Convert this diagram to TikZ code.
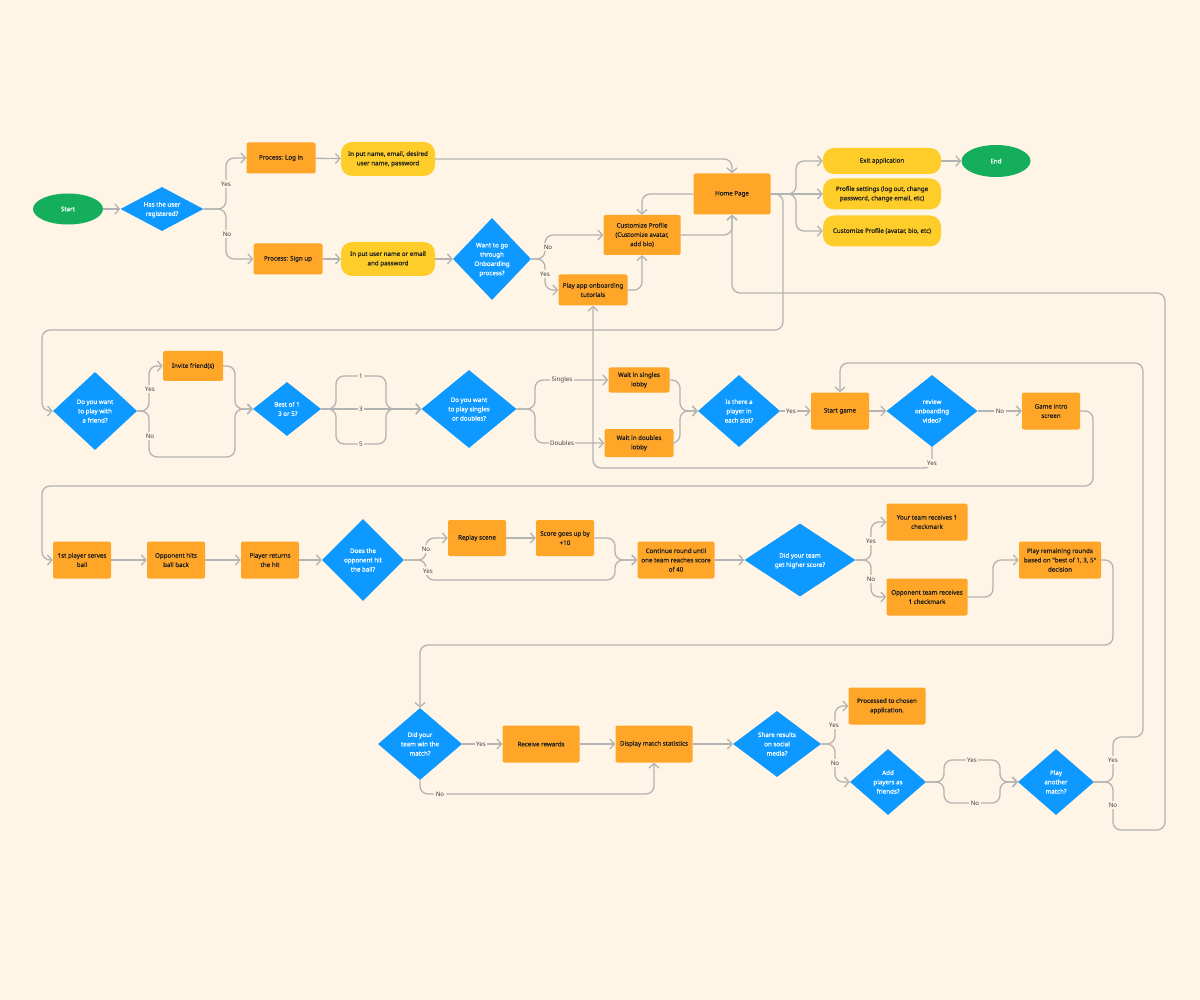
\documentclass[tikz,border=0pt]{standalone}
\usepackage{fontspec}
\setmainfont{Noto Sans}
\newfontfamily\boxfont{Noto Sans}[BoldFont={Noto Sans}, BoldFeatures={FakeBold=0.4}]
\usetikzlibrary{shapes.geometric,arrows.meta}
\definecolor{bg}{HTML}{FEF5E6}
\definecolor{orng}{HTML}{FFA629}
\definecolor{yllw}{HTML}{FFCD29}
\definecolor{blu}{HTML}{0D99FF}
\definecolor{grn}{HTML}{14AE5C}
\definecolor{lin}{HTML}{B3B3B3}
\definecolor{ink}{HTML}{1E1E1E}
\newcommand\dlab[1]{\raisebox{-1.9pt}[0pt][0pt]{\makebox[0pt]{\begin{tabular}{@{}c@{}}#1\end{tabular}}}}
\tikzset{
  base/.style={font=\boxfont\bfseries\fontsize{6.2}{9.3}\selectfont, align=center, inner sep=0pt},
  obox/.style n args={2}{base, rectangle, rounded corners=2pt, fill=orng, text=ink, minimum width=#1pt, minimum height=#2pt},
  ybox/.style n args={2}{base, rectangle, rounded corners=11pt, fill=yllw, text=ink, minimum width=#1pt, minimum height=#2pt},
  dec/.style n args={2}{base, diamond, fill=blu, text=white, minimum width=#1pt, minimum height=#2pt},
  term/.style n args={2}{base, ellipse, fill=grn, text=white, minimum width=#1pt, minimum height=#2pt},
  arr/.style={draw=lin, line width=1.3pt, rounded corners=8pt, -{Straight Barb[length=4.5pt,width=10pt]}},
  lbl/.style={font=\fontsize{6.2}{8}\selectfont, text=ink!85, fill=bg, inner sep=1.5pt},
}
\begin{document}
\begin{tikzpicture}[x=1pt,y=-1pt]
\fill[bg] (0,0) rectangle (1200,1000);
\useasboundingbox (0,0) rectangle (1200,1000);

% ---------- Row 1 ----------
\node[term={70}{31}] (start) at (68,209) {Start};
\node[dec={83}{44}] (q1) at (162,209) {\dlab{Has the user\\registered?}};
\node[obox={69}{31}] (login) at (281,158) {Process: Log in};
\node[ybox={94}{34}] (inlogin) at (388,159) {In put name, email, desired\\user name, password};
\node[obox={69}{31}] (signup) at (288,259) {Process: Sign up};
\node[ybox={94}{34}] (insignup) at (388,259) {In put user name or email\\and password};
\node[dec={78}{82}] (want) at (492,259) {\dlab{Want to go\\through\\Onboarding\\process?}};
\node[obox={77}{40}] (custom) at (642,235) {Customize Profile\\(Customize avatar,\\add bio)};
\node[obox={69}{31}] (tut) at (593,290) {Play app onboarding\\tutorials};
\node[obox={77}{41}] (home) at (732,194) {Home Page};
\node[ybox={118}{26}] (exit) at (882,161) {Exit application};
\node[term={69}{32}] (end) at (996,161) {End};
\node[ybox={118}{31}] (profset) at (882,194) {Profile settings (log out, change\\password, change email, etc)};
\node[ybox={118}{31}] (custprof) at (882,231) {Customize Profile (avatar, bio, etc)};

% ---------- Row 2 ----------
\node[dec={84}{78}] (friend) at (95,411) {\dlab{Do you want\\to play with\\a friend?}};
\node[obox={60}{30}] (invite) at (193,366) {Invite friend(s)};
\node[dec={68}{54}] (best) at (287,409) {\dlab{Best of 1\\\ 3 or 5?}};
\node[dec={95}{78}] (sd) at (469,409) {\dlab{Do you want\\to play singles\\or doubles?}};
\node[obox={61}{25}] (singles) at (639,380) {Wait in singles\\lobby};
\node[obox={69}{28}] (doubles) at (639,443) {Wait in doubles\\lobby};
\node[dec={82}{72}] (slot) at (739,411) {\dlab{Is there a\\player in\\each slot?}};
\node[obox={58}{37}] (startg) at (840,411) {Start game};
\node[dec={91}{72}] (review) at (932,411) {\dlab{review\\onboarding\\video?}};
\node[obox={58}{37}] (intro) at (1051,411) {Game intro\\screen};

% ---------- Row 3 ----------
\node[obox={58}{37}] (p1) at (82,560) {1st player serves\\ball};
\node[obox={58}{37}] (opp) at (176,560) {Opponent hits\\ball back};
\node[obox={58}{37}] (ret) at (270,560) {Player returns\\the hit};
\node[dec={82}{82}] (hit) at (363,560) {\dlab{Does the\\opponent hit\\the ball?}};
\node[obox={58}{36}] (replay) at (477,538) {Replay scene};
\node[obox={58}{36}] (score) at (565,538) {Score goes up by\\+10};
\node[obox={77}{37}] (cont) at (676,560) {Continue round until\\one team reaches score\\of 40};
\node[dec={111}{73}] (higher) at (800,560) {\dlab{Did your team\\get higher score?}};
\node[obox={81}{37}] (yours) at (927,522) {Your team receives 1\\checkmark};
\node[obox={81}{37}] (oppteam) at (927,597) {Opponent team receives\\1 checkmark};
\node[obox={82}{37}] (remain) at (1060,560) {Play remaining rounds\\based on "best of 1, 3, 5"\\decision};

% ---------- Row 4 ----------
\node[dec={84}{72}] (win) at (420,744) {\dlab{Did your\\team win the\\match?}};
\node[obox={77}{37}] (recv) at (541,744) {Receive rewards};
\node[obox={77}{37}] (disp) at (654,744) {Display match statistics};
\node[dec={88}{66}] (share) at (777,744) {\dlab{Share results\\on social\\media?}};
\node[obox={77}{37}] (proc) at (887,706) {Processed to chosen\\application.};
\node[dec={76}{66}] (add) at (888,782) {\dlab{Add\\players as\\friends?}};
\node[dec={76}{66}] (again) at (1056,782) {\dlab{Play\\another\\match?}};

% ---------- Long loops ----------
\draw[arr] (home.east) -- (783,194) -- (783,330) -- (42,330) -- (42,411) -- (friend.west);
\draw[arr] (again.east) -- (1113,782) -- (1113,737) -- (1143,737) -- (1143,363) -- (840,363) -- (startg.north);
\draw[arr] (again.east) -- (1113,782) -- (1113,830) -- (1165,830) -- (1165,293) -- (732,293) -- (home.south);
\draw[arr] (review.south) -- (932,468) -- (593,468) -- (tut.south);
\draw[arr] (intro.east) -- (1093,411) -- (1093,486) -- (42,486) -- (42,560) -- (p1.west);
\draw[arr] (remain.east) -- (1113,560) -- (1113,645) -- (420,645) -- (win.north);

% ---------- Row 1 connectors ----------
\draw[arr] (start) -- (q1);
\draw[arr] (q1.east) -- (226,209) -- (226,158) -- (login.west);
\draw[arr] (q1.east) -- (226,209) -- (226,259) -- (signup.west);
\node[lbl] (l1) at (226,184) {Yes};
\node[lbl] (l2) at (227,234) {No};
\draw[arr] (login) -- (inlogin);
\draw[arr] (signup) -- (insignup);
\draw[arr] (inlogin.east) -- (732,159) -- (home.north);
\draw[arr] (insignup) -- (want);
\draw[arr] (want.east) -- (545,259) -- (545,235) -- (custom.west);
\draw[arr] (want.east) -- (545,259) -- (545,290) -- (tut.west);
\node[lbl] (l3) at (548,247) {No};
\node[lbl] (l4) at (545,274) {Yes};
\draw[arr] (tut.east) -| (custom.south);
\draw[arr] (custom.east) -| (home.south);
\draw[arr] (home.west) -| (custom.north);
\draw[arr] (home.east) -- (796,194) -- (796,161) -- (exit.west);
\draw[arr] (home.east) -- (profset.west);
\draw[arr] (home.east) -- (796,194) -- (796,231) -- (custprof.west);
\draw[arr] (exit) -- (end);

% ---------- Row 2 connectors ----------
\draw[arr] (friend.east) -- (149,411) -- (149,366) -- (invite.west);
\draw[arr] (friend.east) -- (149,411) -- (149,457) -- (235,457) -- (235,409) -- (best.west);
\draw[arr] (invite.east) -- (235,366) -- (235,409) -- (best.west);
\node[lbl] (l5) at (150,389) {Yes};
\node[lbl] (l6) at (150,436) {No};
\draw[arr] (best.east) -- (336,409) -- (336,376) -- (386,376) -- (386,409) -- (sd.west);
\draw[arr] (best.east) -- (sd.west);
\draw[arr] (best.east) -- (336,409) -- (336,444) -- (386,444) -- (386,409) -- (sd.west);
\node[lbl] (l7) at (361,376) {1};
\node[lbl] (l8) at (361,409) {3};
\node[lbl] (l9) at (361,444) {5};
\draw[arr] (sd.east) -- (535,409) -- (535,380) -- (singles.west);
\draw[arr] (sd.east) -- (535,409) -- (535,443) -- (doubles.west);
\node[lbl] (l10) at (562,380) {Singles};
\node[lbl] (l11) at (562,443) {Doubles};
\draw[arr] (singles.east) -- (680,380) -- (680,411) -- (slot.west);
\draw[arr] (doubles.east) -- (680,443) -- (680,411) -- (slot.west);
\draw[arr] (slot) -- (startg);
\node[lbl] (l12) at (791,411) {Yes};
\draw[arr] (startg) -- (review);
\draw[arr] (review) -- (intro);
\node[lbl] (l13) at (1000,411) {No};
\node[lbl] (l14) at (932,463) {Yes};

% ---------- Row 3 connectors ----------
\draw[arr] (p1) -- (opp);
\draw[arr] (opp) -- (ret);
\draw[arr] (ret) -- (hit);
\draw[arr] (hit.east) -- (426,560) -- (426,538) -- (replay.west);
\draw[arr] (hit.east) -- (426,560) -- (426,580) -- (615,580) -- (615,560) -- (cont.west);
\node[lbl] (l15) at (426,549) {No};
\node[lbl] (l16) at (428,571) {Yes};
\draw[arr] (replay) -- (score);
\draw[arr] (score.east) -- (615,538) -- (615,560) -- (cont.west);
\draw[arr] (cont) -- (higher);
\draw[arr] (higher.east) -- (871,560) -- (871,522) -- (yours.west);
\draw[arr] (higher.east) -- (871,560) -- (871,597) -- (oppteam.west);
\node[lbl] (l17) at (871,541) {Yes};
\node[lbl] (l18) at (871,579) {No};
\draw[arr] (oppteam.east) -- (993,597) -- (993,560) -- (remain.west);

% ---------- Row 4 connectors ----------
\draw[arr] (win) -- (recv);
\node[lbl] (l19) at (481,744) {Yes};
\draw[arr] (win.south) -- (420,794) -- (654,794) -- (disp.south);
\node[lbl] (l20) at (440,794) {No};
\draw[arr] (recv) -- (disp);
\draw[arr] (disp) -- (share);
\draw[arr] (share.east) -- (835,744) -- (835,706) -- (proc.west);
\draw[arr] (share.east) -- (835,744) -- (835,782) -- (add.west);
\node[lbl] (l21) at (834,725) {Yes};
\node[lbl] (l22) at (835,763) {No};
\draw[arr] (add.east) -- (944,782) -- (944,760) -- (1000,760) -- (1000,782) -- (again.west);
\draw[arr] (add.east) -- (944,782) -- (944,803) -- (1000,803) -- (1000,782) -- (again.west);
\node[lbl] (l23) at (972,760) {Yes};
\node[lbl] (l24) at (975,803) {No};
\node[lbl] (l25) at (1113,760) {Yes};
\node[lbl] (l26) at (1113,805) {No};
\end{tikzpicture}
\end{document}
